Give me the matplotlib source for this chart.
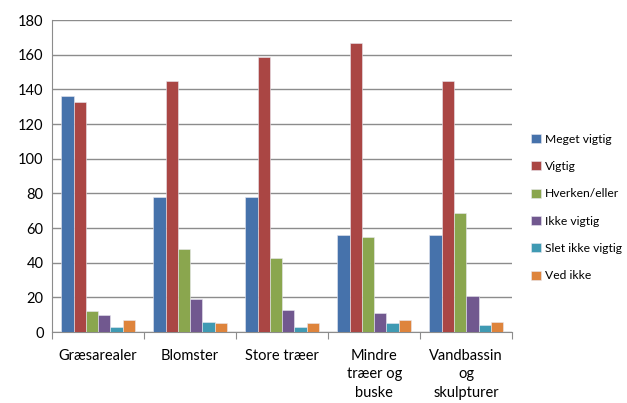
import matplotlib
matplotlib.use("Agg")
import matplotlib.pyplot as plt
import numpy as np

plt.rcParams['font.family'] = ['Lato', 'DejaVu Sans']

categories = ["Græsarealer", "Blomster", "Store træer", "Mindre\ntræer og\nbuske", "Vandbassin\nog\nskulpturer"]
series_names = ["Meget vigtig", "Vigtig", "Hverken/eller", "Ikke vigtig", "Slet ikke vigtig", "Ved ikke"]
meget_vigtig = [136, 78, 78, 56, 56]
vigtig = [133, 145, 159, 167, 145]
hverken_eller = [12, 48, 43, 55, 69]
ikke_vigtig = [10, 19, 13, 11, 21]
slet_ikke_vigtig = [3, 6, 3, 5, 4]
ved_ikke = [7, 5, 5, 7, 6]
series = [meget_vigtig, vigtig, hverken_eller, ikke_vigtig, slet_ikke_vigtig, ved_ikke]
colors = ["#4672AB", "#AA4644", "#8AA64E", "#71588F", "#3F9AB3", "#DE843C"]

fig = plt.figure(figsize=(6.27, 4.03), dpi=100)
ax = fig.add_axes([0.083, 0.176, 0.734, 0.774])

n = len(series)
gap = 1.5
w = 1.0 / (n + gap)
x = np.arange(len(categories))
for i, (vals, c, name) in enumerate(zip(series, colors, series_names)):
    offs = (i - (n - 1) / 2) * w
    ax.bar(x + offs, vals, width=w, color=c, label=name, edgecolor="#e8e8f0", linewidth=0.4, zorder=3)

ax.set_xlim(-0.5, len(categories) - 0.5)
ax.set_ylim(0, 180)
ax.set_yticks(np.arange(0, 181, 20))
ax.yaxis.grid(True, color="#8c8c8c", linewidth=1.0, zorder=0)
ax.set_axisbelow(True)
for s in ["top", "right"]:
    ax.spines[s].set_visible(False)
ax.spines["left"].set_color("#8c8c8c")
ax.spines["bottom"].set_color("#8c8c8c")
ax.set_xticks(np.arange(-0.5, len(categories), 1.0), minor=False)
ax.set_xticklabels([])
ax.set_xticks(x, minor=True)
ax.set_xticklabels(categories, minor=True, fontsize=10.5, linespacing=1.4, va="top")
ax.tick_params(axis="x", which="minor", length=0, pad=12)
ax.tick_params(axis="x", which="major", length=5, color="#8c8c8c")
ax.tick_params(axis="y", length=0, labelsize=10.5, pad=6)

leg = fig.legend(loc="center left", bbox_to_anchor=(0.83, 0.485), frameon=False,
                 fontsize=8.7, handlelength=0.8, handleheight=0.8, handletextpad=0.3,
                 labelspacing=1.35)

fig.savefig("out.png", dpi=100)
